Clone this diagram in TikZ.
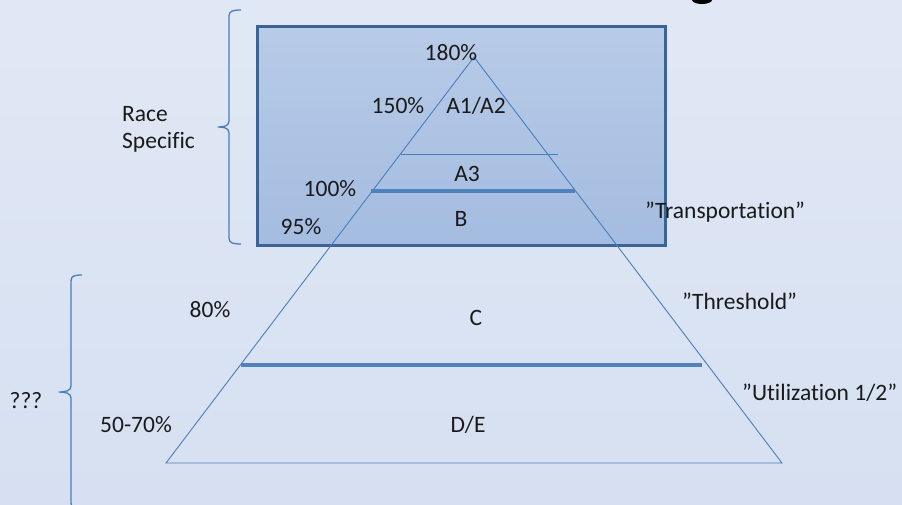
\documentclass[tikz,border=0pt]{standalone}
\usepackage{fontspec}
\setmainfont{Carlito}[Ligatures=NoCommon]
\definecolor{bgtop}{HTML}{E1E8F5}
\definecolor{bgmid}{HTML}{C4D4ED}
\definecolor{bgbot}{HTML}{D6E0F2}
\definecolor{boxtop}{HTML}{B8CBE8}
\definecolor{boxbot}{HTML}{A4BCE0}
\definecolor{boxedge}{HTML}{3D6294}
\definecolor{pyr}{HTML}{4A7EBB}
\definecolor{thick}{HTML}{4F81BD}
\definecolor{txt}{HTML}{1A1A1A}
\begin{document}
\begin{tikzpicture}[x=1pt,y=-1pt,
  lbl/.style={font=\fontsize{23.5}{27}\selectfont, text=txt, inner sep=0pt, anchor=base},
  lblw/.style={lbl, anchor=base west},
  thinline/.style={draw=pyr, line width=0.9pt},
  thickline/.style={draw=thick, line width=3.2pt},
  bracestyle/.style={draw=pyr, line width=1.3pt, line join=round},
  boxstyle/.style={draw=boxedge, line width=2.8pt, top color=boxtop, bottom color=boxbot}]
\useasboundingbox (0,0) rectangle (902,504);
\clip (0,0) rectangle (902,504);
% background
\shade[top color=bgtop, middle color=bgmid, bottom color=bgbot] (0,0) rectangle (902,504);
% fragment of title letter at top edge
\fill[black] (702,0) ellipse [x radius=10, y radius=4];
% race-specific box
\node[boxstyle, minimum width=408pt, minimum height=219pt, inner sep=0pt, anchor=north west] (box) at (256,25) {};
% braces
\draw[bracestyle] (241,10) .. controls (233,10) and (229,11) .. (229,16) -- (229,121)
  .. controls (229,126) and (224,127) .. (218,127) .. controls (224,127) and (229,128) .. (229,133)
  -- (229,238) .. controls (229,243) and (233,244) .. (241,244);
\draw[bracestyle] (82,275) .. controls (74,275) and (71,276) .. (71,281) -- (71,386)
  .. controls (71,391) and (65,392) .. (59,392) .. controls (65,392) and (71,393) .. (71,398)
  -- (71,503) .. controls (71,508) and (74,509) .. (82,509);
% pyramid
\coordinate (apex) at (474,57);
\coordinate (bl) at (166,463);
\coordinate (br) at (782,463);
\coordinate (a3l) at (401,154);
\coordinate (a3r) at (558,154);
\coordinate (t1l) at (371,191);
\coordinate (t1r) at (575,191);
\coordinate (t2l) at (241,365);
\coordinate (t2r) at (702,365);
\draw[thinline, line join=miter] (apex) -- (bl) -- (br) -- cycle;
\draw[thinline] (a3l) -- (a3r);
\draw[thickline] (t1l) -- (t1r);
\draw[thickline] (t2l) -- (t2r);
% labels
\node[lbl] (p180) at (451,60) {180\%};
\node[lbl] (p150) at (398,113) {150\%};
\node[lbl] (a12) at (476,113) {A1/A2};
\node[lbl] (a3) at (467,181) {A3};
\node[lbl] (p100) at (330,196) {100\%};
\node[lbl] (b) at (461,226) {B};
\node[lbl] (p95) at (301,234) {95\%};
\node[lbl] (p80) at (210,317) {80\%};
\node[lbl] (c) at (476,325) {C};
\node[lbl] (de) at (468,432) {D/E};
\node[lbl] (p5070) at (136,432) {50-70\%};
\node[lbl] (q) at (26,408) {???};
\node[lblw] (trans) at (645,218) {”Transportation”};
\node[lblw] (thr) at (682,309) {”Threshold”};
\node[lblw] (util) at (742,400) {”Utilization 1/2”};
\node[lbl, anchor=north west, align=left] (race) at (122,106) {Race\\Specific};
\end{tikzpicture}
\end{document}
